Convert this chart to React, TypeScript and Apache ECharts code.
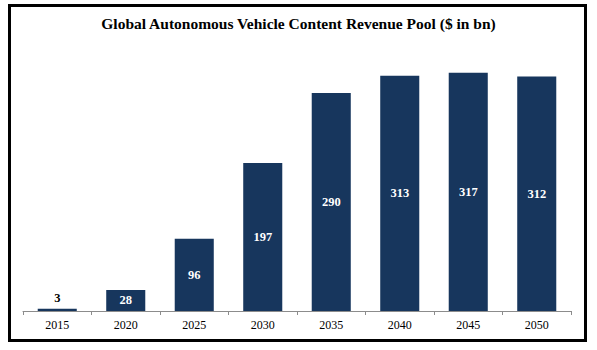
import React, { useEffect, useRef } from "react";
import * as echarts from "echarts";

const categories = ["2015", "2020", "2025", "2030", "2035", "2040", "2045", "2050"];
const revenue = [3, 28, 96, 197, 290, 313, 317, 312];
const titleText = "Global Autonomous Vehicle Content Revenue Pool ($ in bn)";

export default function App() {
  const ref = useRef<HTMLDivElement>(null);
  useEffect(() => {
    if (!ref.current) return;
    const chart = echarts.init(ref.current, null, { renderer: "svg" });
    const font = "'Liberation Serif', 'Times New Roman', serif";
    chart.setOption({
      animation: false,
      backgroundColor: "#ffffff",
      title: {
        text: titleText,
        left: "center",
        top: 10,
        textStyle: { fontFamily: font, fontSize: 15.5, fontWeight: "bold", color: "#000" },
      },
      grid: { left: 23, right: 26, top: 48, bottom: 39 },
      xAxis: {
        type: "category",
        data: categories,
        axisLine: { lineStyle: { color: "#8c8c8c", width: 1 } },
        axisTick: { show: true, length: 4, lineStyle: { color: "#8c8c8c" } },
        axisLabel: { fontFamily: font, fontSize: 12, color: "#000", margin: 8 },
      },
      yAxis: { type: "value", min: 0, max: 350, show: false, splitLine: { show: false } },
      series: [
        {
          type: "bar",
          data: revenue.map((v, i) =>
            i === 0
              ? { value: v, label: { position: "top", color: "#000", distance: 4 } }
              : v
          ),
          barWidth: "57%",
          itemStyle: { color: "#17365d" },
          label: {
            show: true,
            position: "inside",
            fontFamily: font,
            fontSize: 12.5,
            fontWeight: "bold",
            color: "#ffffff",
          },
        },
      ],
      graphic: [
        {
          type: "rect",
          shape: { x: 9.5, y: 5.5, width: 576, height: 335 },
          style: { fill: "none", stroke: "#000", lineWidth: 3 },
          silent: true,
        },
      ],
    });
    return () => chart.dispose();
  }, []);
  return (
    <div
      ref={ref}
      style={{ position: "fixed", left: 0, top: 0, width: 597, height: 350 }}
    />
  );
}
